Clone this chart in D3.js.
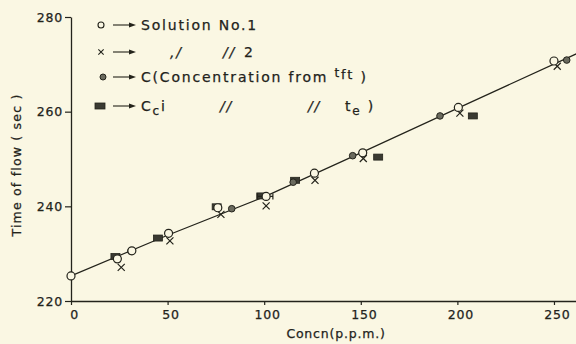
<!DOCTYPE html>
<html>
<head>
<meta charset="utf-8">
<script src="https://cdn.jsdelivr.net/npm/d3@7"></script>
<style>
  html, body { margin: 0; padding: 0; background: #faf7e3; }
  svg { display: block; }
  text { font-family: "DejaVu Sans", sans-serif; fill: #23231b; stroke: #23231b; stroke-width: 0.25px; }
  .tick text { font-size: 12.5px; letter-spacing: 0.8px; }
</style>
</head>
<body>
<div id="app"></div>
<script>
// data
const xTicks = [0, 50, 100, 150, 200, 250]
const yTicks = [220, 240, 260, 280]

// [concn ppm, time of flow sec]
const solution1 = [[0, 225.3], [24, 228.9], [31.5, 230.6], [50.5, 234.3], [76, 239.7], [101, 242.1], [126, 247.0], [151, 251.3], [200.5, 260.9], [250, 270.7]]
const solution2 = [[26, 227.1], [51.2, 232.7], [77.6, 238.3], [101, 240.1], [126.3, 245.5], [151.3, 250.1], [201.3, 259.7], [251.7, 269.6]]
const concTft = [[31, 230.5], [83.2, 239.5], [115, 245.1], [145.8, 250.7], [191, 259.1], [256.6, 270.9]]
const concTe = [[23, 229.4], [45, 233.3], [75.4, 239.9], [98.5, 242.2], [116, 245.5], [159, 250.4], [208, 259.1]]
const errBar = [[100.5, 242.1, 4]]
const fitLine = [[0, 225.3], [50, 233.9], [100, 242.0], [150, 251.3], [200, 260.7], [262, 272.3]]

const W = 576, H = 344
const ink = '#23231b'

const svg = d3.select('#app').append('svg').attr('width', W).attr('height', H)

const x = d3.scaleLinear().domain([0, 261.4]).range([71, 576])
const y = d3.scaleLinear().domain([220, 280]).range([301, 17])

// Axes
const gy = svg.append('g')
  .attr('transform', `translate(${x(0)},0)`)
  .call(d3.axisLeft(y).tickValues(yTicks).tickSize(6).tickSizeOuter(0).tickPadding(2))
gy.select('.domain').attr('stroke', ink).attr('stroke-width', 1.3)
gy.selectAll('.tick line').attr('stroke', ink).attr('stroke-width', 1.2)

const gx = svg.append('g')
  .attr('transform', `translate(0,${y(220)})`)
  .call(d3.axisBottom(x).tickValues(xTicks).tickSize(4).tickSizeOuter(0).tickPadding(5))
gx.select('.domain').attr('stroke', ink).attr('stroke-width', 1.5)
gx.selectAll('.tick line').attr('stroke', ink).attr('stroke-width', 1.2)
gx.selectAll('.tick text').attr('dx', 3)

// Axis titles
svg.append('text')
  .attr('x', 336).attr('y', 338)
  .attr('text-anchor', 'middle')
  .style('font-size', '12.5px').style('letter-spacing', '0.8px')
  .text('Concn(p.p.m.)')

svg.append('text')
  .attr('transform', 'translate(21,165) rotate(-90)')
  .attr('text-anchor', 'middle')
  .style('font-size', '12.5px').style('letter-spacing', '1.2px')
  .text('Time of flow ( sec )')

// Fitted line
svg.append('path')
  .datum(fitLine)
  .attr('fill', 'none')
  .attr('stroke', ink)
  .attr('stroke-width', 1.2)
  .attr('d', d3.line().x(d => x(d[0])).y(d => y(d[1])))

// Markers
const plot = svg.append('g')

plot.selectAll('.te')
  .data(concTe)
  .join('rect')
  .attr('x', d => x(d[0]) - 4.5)
  .attr('y', d => y(d[1]) - 3)
  .attr('width', 9).attr('height', 6)
  .attr('fill', '#3a3a32').attr('stroke', ink).attr('stroke-width', 0.8)

plot.selectAll('.tft')
  .data(concTft)
  .join('circle')
  .attr('cx', d => x(d[0])).attr('cy', d => y(d[1]))
  .attr('r', 3.3)
  .attr('fill', '#6a6a5e').attr('stroke', ink).attr('stroke-width', 1)

const cross = d3.symbol().type(d3.symbolX).size(34)
plot.selectAll('.s2')
  .data(solution2)
  .join('path')
  .attr('transform', d => `translate(${x(d[0])},${y(d[1])})`)
  .attr('d', cross)
  .attr('fill', 'none').attr('stroke', ink).attr('stroke-width', 1.2)

plot.selectAll('.err')
  .data(errBar)
  .join('path')
  .attr('d', d => {
    const x0 = x(d[0] - d[2]), x1 = x(d[0] + d[2]), yy = y(d[1])
    return `M${x0},${yy}H${x1}M${x0},${yy - 3}V${yy + 3}M${x1},${yy - 3}V${yy + 3}`
  })
  .attr('fill', 'none').attr('stroke', ink).attr('stroke-width', 1.2)

plot.selectAll('.s1')
  .data(solution1)
  .join('circle')
  .attr('cx', d => x(d[0])).attr('cy', d => y(d[1]))
  .attr('r', 4)
  .attr('fill', '#faf7e3').attr('stroke', ink).attr('stroke-width', 1.2)

// Legend
const legend = svg.append('g').style('font-size', '14px').style('letter-spacing', '1.8px')
const rows = [25, 52, 77, 106]

function arrow(yy) {
  legend.append('path')
    .attr('d', `M113,${yy}H130`)
    .attr('stroke', ink).attr('stroke-width', 1.1)
  legend.append('path')
    .attr('d', `M129,${yy - 2.5}L136,${yy}L129,${yy + 2.5}Z`)
    .attr('fill', ink)
}

legend.append('circle').attr('cx', 101).attr('cy', rows[0]).attr('r', 3)
  .attr('fill', 'none').attr('stroke', ink).attr('stroke-width', 1.1)
arrow(rows[0])
legend.append('text').attr('x', 141).attr('y', rows[0] + 5).text('Solution No.1')

legend.append('path')
  .attr('transform', `translate(101,${rows[1]})`)
  .attr('d', d3.symbol().type(d3.symbolX).size(20))
  .attr('fill', 'none').attr('stroke', ink).attr('stroke-width', 1.1)
arrow(rows[1])
legend.append('text').attr('x', 170).attr('y', rows[1] + 5).style('font-style', 'italic').text(',/')
legend.append('text').attr('x', 223).attr('y', rows[1] + 5).style('font-style', 'italic').text('//')
legend.append('text').attr('x', 244).attr('y', rows[1] + 5).text('2')

legend.append('circle').attr('cx', 103).attr('cy', rows[2]).attr('r', 3)
  .attr('fill', '#6a6a5e').attr('stroke', ink).attr('stroke-width', 1)
arrow(rows[2])
const t3 = legend.append('text').attr('x', 141).attr('y', rows[2] + 5)
t3.append('tspan').text('C(Concentration from ')
t3.append('tspan').attr('dy', -5).style('font-size', '12px').text('t')
t3.append('tspan').attr('dy', 2).style('font-size', '13px').text('ft')
t3.append('tspan').attr('dy', 3).text(' )')

legend.append('rect').attr('x', 95).attr('y', rows[3] - 3).attr('width', 10).attr('height', 6)
  .attr('fill', '#3a3a32').attr('stroke', ink).attr('stroke-width', 0.8)
arrow(rows[3])
const t4 = legend.append('text').attr('x', 141).attr('y', rows[3] + 5)
t4.append('tspan').text('C')
t4.append('tspan').attr('dy', 4).style('font-size', '12px').text('c')
t4.append('tspan').attr('dy', -4).text('i')
legend.append('text').attr('x', 220).attr('y', rows[3] + 5).style('font-style', 'italic').text('//')
legend.append('text').attr('x', 308).attr('y', rows[3] + 5).style('font-style', 'italic').text('//')
const t5 = legend.append('text').attr('x', 345).attr('y', rows[3] + 5)
t5.append('tspan').text('t')
t5.append('tspan').attr('dy', 4).style('font-size', '12px').text('e')
t5.append('tspan').attr('dy', -4).text(' )')
</script>
</body>
</html>
